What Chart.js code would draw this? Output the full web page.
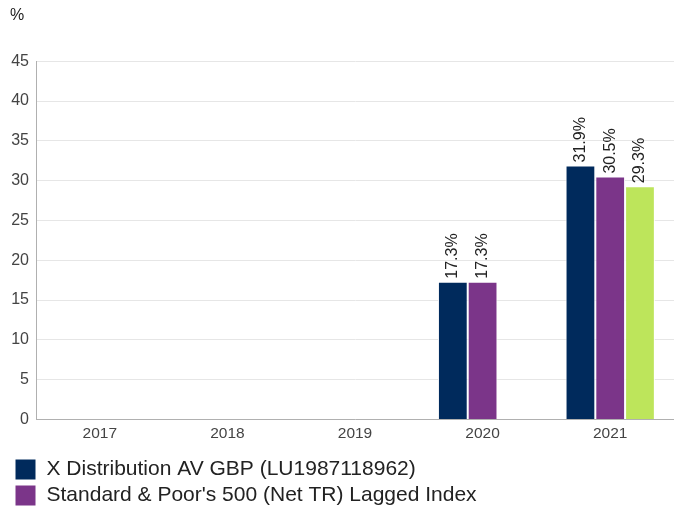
<!DOCTYPE html>
<html lang="en">
<head>
    <meta charset="UTF-8">
    <title>Performance</title>
    <style>
        html, body {
            margin: 0;
            padding: 0;
            background: #fff;
            overflow: hidden;
        }
        #chart-container {
            width: 674px;
            height: 516px;
        }
    </style>
    <script src="https://cdn.jsdelivr.net/npm/chart.js"></script>
</head>
<body>
    <div id="chart-container">
        <canvas id="perfChart"></canvas>
    </div>

    <script>
        // Chart data
        const years = ['2017', '2018', '2019', '2020', '2021'];
        const fundValues = [null, null, null, 17.3, 31.9];
        const indexValues = [null, null, null, 17.3, 30.5];
        const sectorValues = [null, null, null, null, 29.3];
        const yTicks = [0, 5, 10, 15, 20, 25, 30, 35, 40, 45];

        const fontFamily = '"Liberation Sans", Arial, sans-serif';

        // Draws rotated value labels on top of each bar
        const barLabels = {
            id: 'barLabels',
            afterDatasetsDraw(chart) {
                const ctx = chart.ctx;
                ctx.save();
                ctx.font = '16px ' + fontFamily;
                ctx.fillStyle = '#222';
                ctx.textAlign = 'left';
                ctx.textBaseline = 'middle';
                chart.data.datasets.forEach((ds, i) => {
                    const meta = chart.getDatasetMeta(i);
                    meta.data.forEach((bar, j) => {
                        const v = ds.data[j];
                        if (v === null || v === undefined) return;
                        ctx.save();
                        ctx.translate(bar.x, bar.y - 3);
                        ctx.rotate(-Math.PI / 2);
                        ctx.fillText(v.toFixed(1) + '%', 0, 0);
                        ctx.restore();
                    });
                });
                ctx.restore();
            }
        };

        const ctx = document.getElementById('perfChart').getContext('2d');
        new Chart(ctx, {
            type: 'bar',
            data: {
                labels: years,
                datasets: [
                    {
                        label: 'X Distribution AV GBP (LU1987118962)',
                        data: fundValues,
                        backgroundColor: '#002a5c',
                        borderColor: '#ffffff',
                        borderWidth: 1
                    },
                    {
                        label: "Standard & Poor's 500 (Net TR) Lagged Index",
                        data: indexValues,
                        backgroundColor: '#7b3589',
                        borderColor: '#ffffff',
                        borderWidth: 1
                    },
                    {
                        label: 'Sector',
                        data: sectorValues,
                        backgroundColor: '#bde55b',
                        borderColor: '#ffffff',
                        borderWidth: 1
                    }
                ]
            },
            options: {
                responsive: true,
                maintainAspectRatio: false,
                animation: false,
                datasets: {
                    bar: {
                        categoryPercentage: 0.7,
                        barPercentage: 1.0
                    }
                },
                layout: {
                    padding: { left: 10, right: -8, top: 0, bottom: 0 }
                },
                plugins: {
                    title: {
                        display: true,
                        text: '%',
                        align: 'start',
                        color: '#222',
                        font: { family: fontFamily, size: 16, weight: 'normal' },
                        padding: { top: 6, bottom: 36 }
                    },
                    legend: {
                        position: 'bottom',
                        align: 'start',
                        labels: {
                            filter: item => item.datasetIndex < 2,
                            color: '#222',
                            boxWidth: 21,
                            boxHeight: 21,
                            padding: 5,
                            font: { family: fontFamily, size: 21, lineHeight: 1.0 }
                        }
                    },
                    tooltip: { enabled: false }
                },
                scales: {
                    x: {
                        grid: { display: false },
                        border: { color: '#b0b0b0' },
                        afterFit: axis => { axis.height += 14; },
                        ticks: {
                            color: '#444',
                            font: { family: fontFamily, size: 15.5 },
                            padding: -3
                        }
                    },
                    y: {
                        min: 0,
                        max: 45,
                        afterBuildTicks: axis => {
                            axis.ticks = yTicks.map(v => ({ value: v }));
                        },
                        afterFit: axis => { axis.width = 26; },
                        grid: { color: '#e6e6e6', drawTicks: false },
                        border: { color: '#b0b0b0' },
                        ticks: {
                            color: '#444',
                            font: { family: fontFamily, size: 16 },
                            padding: 7
                        }
                    }
                }
            },
            plugins: [barLabels]
        });
    </script>
</body>
</html>
